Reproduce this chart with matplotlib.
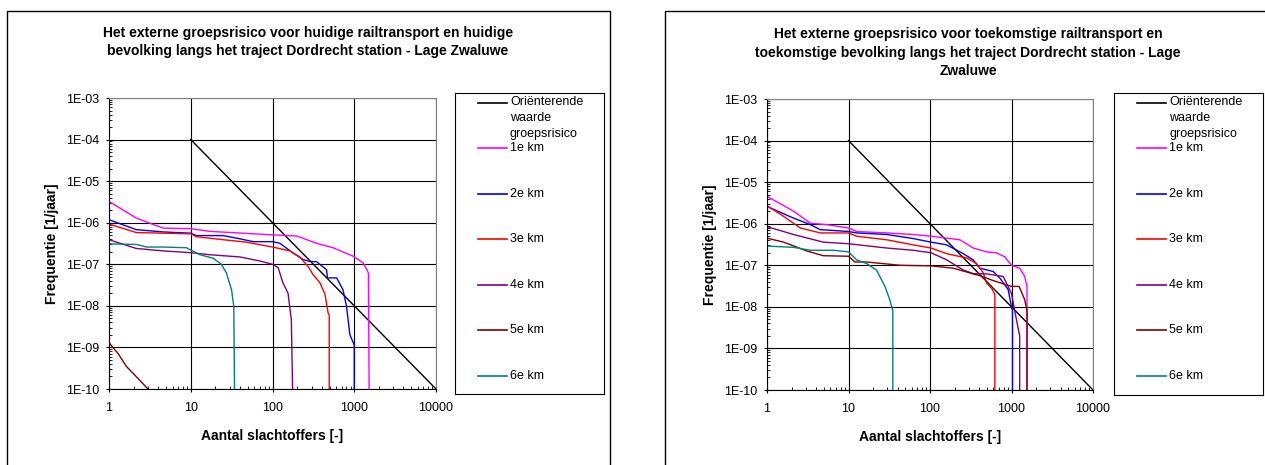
import matplotlib
matplotlib.use('Agg')
import matplotlib.pyplot as plt
from matplotlib.patches import Rectangle
from matplotlib import ticker
import numpy as np

plt.rcParams['font.family'] = ['Liberation Sans', 'DejaVu Sans']

W, H = 1265, 465

series_names = ['1e km', '2e km', '3e km', '4e km', '5e km', '6e km']
series_colors = ['#FF00FF', '#0000FF', '#FF0000', '#800080', '#800000', '#008080']

norm_label = 'Oriënterende\nwaarde\ngroepsrisico'
norm_n = [10, 10000]
norm_f = [1e-4, 1e-10]

# huidige railtransport / huidige bevolking
cur_n = [
    [1, 2.16, 4.6, 10, 17, 100, 197, 346, 550, 980, 1290, 1490, 1520],
    [1, 2.16, 4.6, 10, 11.7, 25, 40, 58, 100, 123, 179, 237, 285, 346, 458, 470, 610, 730, 805, 885, 1000, 1000],
    [1, 2.16, 10, 11.7, 25, 48, 100, 163, 215, 272, 314, 380, 438, 480, 494, 494],
    [1, 2.16, 4.6, 10, 17, 40, 70, 100, 117, 134, 155, 170, 176],
    [1, 1.3, 1.63, 2.2, 3.0],
    [1, 2.16, 2.9, 4.6, 8.9, 10, 12.9, 18.8, 23.7, 27.3, 31.6, 33.6, 34.3],
]
cur_f = [
    [3.25e-6, 1.29e-6, 7.4e-7, 7.2e-7, 6.2e-7, 5.1e-7, 4.8e-7, 3.2e-7, 2.5e-7, 1.55e-7, 1.07e-7, 6.2e-8, 1e-10],
    [1.18e-6, 6.8e-7, 6.0e-7, 5.6e-7, 4.9e-7, 4.9e-7, 4.1e-7, 3.5e-7, 3.5e-7, 3.2e-7, 1.86e-7, 1.3e-7, 1.17e-7,
     1.15e-7, 7.4e-8, 4.7e-8, 4.7e-8, 2.4e-8, 9.6e-9, 2e-9, 1.15e-9, 1e-10],
    [9.3e-7, 5.8e-7, 5.4e-7, 4.6e-7, 3.9e-7, 3.4e-7, 2.6e-7, 2.1e-7, 1.5e-7, 8.9e-8, 5.6e-8, 3.6e-8, 1.9e-8,
     6.6e-9, 6e-9, 1e-10],
    [3.9e-7, 2.4e-7, 2.1e-7, 1.9e-7, 1.7e-7, 1.5e-7, 1.2e-7, 1.0e-7, 8.4e-8, 3.6e-8, 2e-8, 4.6e-9, 1e-10],
    [1.3e-9, 7e-10, 3.5e-10, 1.9e-10, 1e-10],
    [3.1e-7, 3.0e-7, 2.6e-7, 2.6e-7, 2.5e-7, 2.2e-7, 1.7e-7, 1.4e-7, 1.0e-7, 6.2e-8, 2.4e-8, 9.6e-9, 1e-10],
]

# toekomstige railtransport / toekomstige bevolking
fut_n = [
    [1, 2.12, 3.4, 5.4, 10, 12.6, 29.5, 62, 103, 176, 233, 339, 495, 650, 825, 1000, 1260, 1450, 1550, 1550],
    [1, 2.12, 3.4, 4.5, 10, 12.6, 29.5, 62, 103, 160, 256, 339, 410, 595, 720, 910, 1000, 1028, 1028],
    [1, 1.6, 2.56, 4.5, 10, 12.6, 29.5, 62, 103, 160, 282, 370, 450, 495, 570, 625, 625],
    [1, 2.12, 4.9, 10, 29.5, 62, 103, 160, 256, 339, 495, 790, 1000, 1150, 1260, 1260],
    [1, 1.6, 3.1, 4.9, 10, 12, 16.7, 43, 103, 193, 410, 595, 1000, 1240, 1450, 1550, 1550],
    [1, 2.12, 3.4, 6.5, 10, 12.6, 16.7, 22, 28, 32, 35, 35],
]
fut_f = [
    [4.55e-6, 2.0e-6, 1.03e-6, 9.5e-7, 7.9e-7, 6.5e-7, 6.0e-7, 5.5e-7, 5.0e-7, 4.4e-7, 4.1e-7, 2.6e-7, 2.1e-7,
     2.0e-7, 1.6e-7, 1.0e-7, 8.5e-8, 5.4e-8, 3e-8, 1e-10],
    [2.6e-6, 1.36e-6, 9.5e-7, 7.2e-7, 6.5e-7, 6.0e-7, 5.5e-7, 4.4e-7, 3.6e-7, 3.1e-7, 1.9e-7, 1.35e-7, 8.5e-8,
     7.1e-8, 4.9e-8, 2.6e-8, 1e-8, 8e-9, 1e-10],
    [2.7e-6, 1.5e-6, 7.9e-7, 6.0e-7, 6.0e-7, 5.0e-7, 4.1e-7, 3.1e-7, 2.6e-7, 1.9e-7, 1.5e-7, 1.1e-7, 6.6e-8,
     3.7e-8, 2.8e-8, 2.0e-8, 1e-10],
    [8.5e-7, 5.5e-7, 3.6e-7, 3.3e-7, 2.6e-7, 2.3e-7, 2.0e-7, 1.35e-7, 7.7e-8, 6.3e-8, 6.2e-8, 5.4e-8, 2.1e-8,
     4.9e-9, 2e-9, 1e-10],
    [4.5e-7, 3.6e-7, 2.2e-7, 1.7e-7, 1.65e-7, 1.2e-7, 1.2e-7, 1.0e-7, 9.7e-8, 8.5e-8, 5.6e-8, 4.3e-8, 3.1e-8,
     3.1e-8, 1.5e-8, 8e-9, 1e-10],
    [2.9e-7, 2.7e-7, 2.3e-7, 2.3e-7, 2.1e-7, 1.35e-7, 1.1e-7, 7.7e-8, 3.1e-8, 1.5e-8, 8e-9, 1e-10],
]

titles = [
    'Het externe groepsrisico voor huidige railtransport en huidige\n'
    'bevolking langs het traject Dordrecht station - Lage Zwaluwe',
    'Het externe groepsrisico voor toekomstige railtransport en\n'
    'toekomstige bevolking langs het traject Dordrecht station - Lage\n'
    'Zwaluwe',
]
xlabel = 'Aantal slachtoffers [-]'
ylabel = 'Frequentie [1/jaar]'


def fx(px):
    return px / W


def fy(py):
    return 1 - py / H


fig = plt.figure(figsize=(W / 100, H / 100), dpi=100)

# chart area frames (cut off by the image edge, as in the original)
fig.patches.append(Rectangle((fx(7), -0.05), fx(603), fy(11) + 0.05, transform=fig.transFigure,
                             fill=False, edgecolor='black', lw=1.0))
fig.patches.append(Rectangle((fx(665), -0.05), fx(700), fy(11) + 0.05, transform=fig.transFigure,
                             fill=False, edgecolor='black', lw=1.0))

panels = [
    dict(ax=(109, 98, 436, 389), leg=(455, 93, 604, 394), title_x=308, title_y=42,
         n=cur_n, f=cur_f, title=titles[0]),
    dict(ax=(767, 99, 1093, 390), leg=(1114, 93, 1263, 395), title_x=968, title_y=52.5,
         n=fut_n, f=fut_f, title=titles[1]),
]

for p in panels:
    x0, y0, x1, y1 = p['ax']
    ax = fig.add_axes([fx(x0), fy(y1), fx(x1 - x0), (y1 - y0) / H])
    ax.set_xscale('log')
    ax.set_yscale('log')
    ax.set_xlim(1, 10000)
    ax.set_ylim(1e-10, 1e-3)

    lines = []
    l, = ax.plot(norm_n, norm_f, color='black', lw=1.0)
    lines.append(l)
    for n, f, c in zip(p['n'], p['f'], series_colors):
        l, = ax.plot(n, f, color=c, lw=1.0)
        lines.append(l)

    ax.set_axisbelow(True)
    ax.grid(True, which='major', color='black', lw=0.8)
    ax.xaxis.set_major_locator(ticker.LogLocator(base=10, numticks=10))
    ax.yaxis.set_major_locator(ticker.LogLocator(base=10, numticks=10))
    ax.xaxis.set_minor_locator(ticker.LogLocator(base=10, subs=range(2, 10), numticks=20))
    ax.yaxis.set_minor_locator(ticker.LogLocator(base=10, subs=range(2, 10), numticks=20))
    ax.xaxis.set_major_formatter(ticker.FuncFormatter(lambda v, pos: '%d' % round(v)))
    ax.yaxis.set_major_formatter(ticker.FuncFormatter(
        lambda v, pos: '1E' + '%03d' % int(round(np.log10(v)))))
    ax.xaxis.set_minor_formatter(ticker.NullFormatter())
    ax.yaxis.set_minor_formatter(ticker.NullFormatter())
    ax.tick_params(which='major', direction='inout', length=4, width=0.8, labelsize=9)
    ax.tick_params(axis='x', which='major', pad=7)
    ax.tick_params(axis='y', which='major', pad=5)
    ax.tick_params(which='minor', direction='in', length=2.2, width=0.6)
    for s in ['top', 'right']:
        ax.spines[s].set_color('#808080')
    for s in ['left', 'bottom']:
        ax.spines[s].set_color('black')
    ax.set_xlabel(xlabel, fontsize=10, fontweight='bold', labelpad=11)
    ax.set_ylabel(ylabel, fontsize=10, fontweight='bold', labelpad=5)

    fig.text(fx(p['title_x']), fy(p['title_y']), p['title'], ha='center', va='center',
             fontsize=10, fontweight='bold', linespacing=1.42)

    # legend box
    lx0, ly0, lx1, ly1 = p['leg']
    lax = fig.add_axes([fx(lx0), fy(ly1), fx(lx1 - lx0), (ly1 - ly0) / H])
    lax.set_xlim(0, lx1 - lx0)
    lax.set_ylim(ly1 - ly0, 0)
    lax.set_xticks([])
    lax.set_yticks([])
    for s in lax.spines.values():
        s.set_color('black')
        s.set_linewidth(0.8)
    labels = [norm_label] + series_names
    for i, (ln, lab) in enumerate(zip(lines, labels)):
        yy = 9.7 + 45.5 * i
        lax.plot([23, 52], [yy, yy], color=ln.get_color(), lw=1.2)
        if i == 0:
            lax.text(55, yy - 7, lab, ha='left', va='top', fontsize=9, linespacing=1.45)
        else:
            lax.text(55, yy, lab, ha='left', va='center', fontsize=9)

fig.savefig('out.png', dpi=100)
